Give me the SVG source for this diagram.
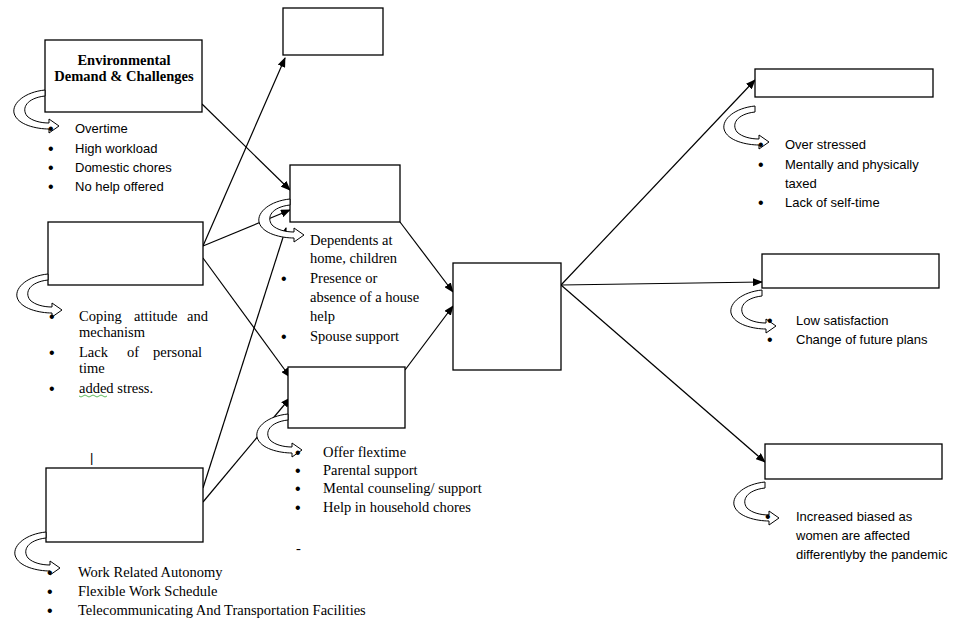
<svg xmlns="http://www.w3.org/2000/svg" width="960" height="629" viewBox="0 0 960 629">
<defs>
<marker id="ah" markerWidth="10" markerHeight="8" refX="9" refY="4" orient="auto" markerUnits="userSpaceOnUse"><path d="M0,0 L10,4 L0,8 z" fill="#000"/></marker>
<path id="curl" d="M0,0 C-18,2 -24,12 -18,20 C-13,25 -4,27 4,27 L4,23 L14,30 L4,37 L4,33 C-8,33 -28,29 -31,17 C-33,7 -20,-4 0,-6 z" fill="#fff" stroke="#000" stroke-width="1"/>
</defs>
<style>
.b{fill:#fff;stroke:#000;stroke-width:1.3}
.c{stroke:#000;stroke-width:1.2;fill:none;marker-end:url(#ah)}
.s{font-family:"Liberation Sans",Arial,sans-serif;font-size:13px;fill:#000}
.t{font-family:"Liberation Serif","Times New Roman",serif;font-size:14.5px;fill:#000}
.d{font-family:"Liberation Sans",Arial,sans-serif;font-size:16px;fill:#000}
</style>
<rect width="960" height="629" fill="#fff"/>
<g id="connectors">
<line class="c" x1="202" y1="104" x2="290" y2="190"/>
<line class="c" x1="203" y1="246" x2="285" y2="58"/>
<line class="c" x1="203" y1="246" x2="290" y2="210"/>
<line class="c" x1="203" y1="258" x2="290" y2="377"/>
<line class="c" x1="203" y1="488" x2="286" y2="228"/>
<line class="c" x1="203" y1="502" x2="290" y2="398"/>
<line class="c" x1="400" y1="222" x2="453" y2="292"/>
<line class="c" x1="405" y1="370" x2="453" y2="306"/>
<line class="c" x1="561" y1="285" x2="755" y2="80"/>
<line class="c" x1="561" y1="285" x2="762" y2="282"/>
<line class="c" x1="561" y1="285" x2="765" y2="462"/>
</g>
<g id="env">
<rect class="b" x="45" y="40" width="157" height="72"/>
<text class="t" font-size="13" font-weight="bold" text-anchor="middle" x="124" y="65">Environmental</text>
<text class="t" font-size="13" font-weight="bold" text-anchor="middle" x="124" y="81">Demand &amp; Challenges</text>
<use href="#curl" x="45" y="96"/>
<text class="d" x="48" y="134">•</text><text class="s" x="75" y="133">Overtime</text>
<text class="d" x="48" y="154">•</text><text class="s" x="75" y="153">High workload</text>
<text class="d" x="48" y="173">•</text><text class="s" x="75" y="172">Domestic chores</text>
<text class="d" x="48" y="192">•</text><text class="s" x="75" y="191">No help offered</text>
</g>
<g id="b2">
<rect class="b" x="48" y="222" width="155" height="63"/>
<use href="#curl" x="48" y="280"/>
<text class="d" x="49" y="322">•</text><text class="t" x="79" y="321">Coping</text><text class="t" x="134" y="321">attitude</text><text class="t" x="187" y="321">and</text>
<text class="t" x="79" y="337">mechanism</text>
<text class="d" x="49" y="358">•</text><text class="t" x="79" y="357">Lack</text><text class="t" x="127" y="357">of</text><text class="t" x="153" y="357">personal</text>
<text class="t" x="79" y="373">time</text>
<text class="d" x="49" y="394">•</text><text class="t" x="79" y="393">added stress.</text>
<path d="M79,396 q2,2 4,0 q2,-2 4,0 q2,2 4,0 q2,-2 4,0 q2,2 4,0 q2,-2 4,0 q2,2 4,0" stroke="#3a3" stroke-width="0.8" fill="none"/>
</g>
<g id="b3">
<text class="s" x="90" y="462">|</text>
<rect class="b" x="46" y="468" width="157" height="74"/>
<use href="#curl" x="46" y="538"/>
<text class="d" x="47" y="578">•</text><text class="t" x="78" y="577">Work Related  Autonomy</text>
<text class="d" x="47" y="597">•</text><text class="t" x="78" y="596">Flexible Work Schedule</text>
<text class="d" x="47" y="616">•</text><text class="t" x="78" y="615">Telecommunicating  And Transportation Facilities</text>
</g>
<g id="top"><rect class="b" x="283" y="8" width="100" height="47"/></g>
<g id="m1">
<rect class="b" x="290" y="165" width="110" height="57"/>
<use href="#curl" x="290" y="205"/>
<text class="t" x="310" y="245">Dependents at</text>
<text class="t" x="310" y="263">home, children</text>
<text class="d" x="281" y="284">•</text><text class="t" x="310" y="283">Presence or</text>
<text class="t" x="310" y="302">absence of a house</text>
<text class="t" x="310" y="321">help</text>
<text class="d" x="281" y="342">•</text><text class="t" x="310" y="341">Spouse support</text>
</g>
<g id="m2">
<rect class="b" x="288" y="367" width="117" height="61"/>
<use href="#curl" x="288" y="420"/>
<text class="d" x="295" y="458">•</text><text class="t" x="323" y="457">Offer flextime</text>
<text class="d" x="295" y="476">•</text><text class="t" x="323" y="475">Parental support</text>
<text class="d" x="295" y="494">•</text><text class="t" x="323" y="493">Mental counseling/ support</text>
<text class="d" x="295" y="513">•</text><text class="t" x="323" y="512">Help in household chores</text>
<text class="t" x="296" y="553">-</text>
</g>
<g id="center"><rect class="b" x="453" y="263" width="108" height="107"/></g>
<g id="r1">
<rect class="b" x="755" y="69" width="178" height="28"/>
<use href="#curl" x="755" y="112"/>
<text class="d" x="758" y="150">•</text><text class="s" x="785" y="149">Over stressed</text>
<text class="d" x="758" y="170">•</text><text class="s" x="785" y="169">Mentally and physically</text>
<text class="s" x="785" y="188">taxed</text>
<text class="d" x="758" y="208">•</text><text class="s" x="785" y="207">Lack of self-time</text>
</g>
<g id="r2">
<rect class="b" x="762" y="254" width="177" height="34"/>
<use href="#curl" x="762" y="296"/>
<text class="d" x="767" y="326">•</text><text class="s" x="796" y="325">Low satisfaction</text>
<text class="d" x="767" y="345">•</text><text class="s" x="796" y="344">Change of future plans</text>
</g>
<g id="r3">
<rect class="b" x="765" y="444" width="177" height="35"/>
<use href="#curl" x="765" y="488"/>
<text class="d" x="765" y="522">•</text><text class="s" x="796" y="521">Increased biased as</text>
<text class="s" x="796" y="540">women are affected</text>
<text class="s" x="796" y="559">differentlyby the pandemic</text>
</g>
</svg>
